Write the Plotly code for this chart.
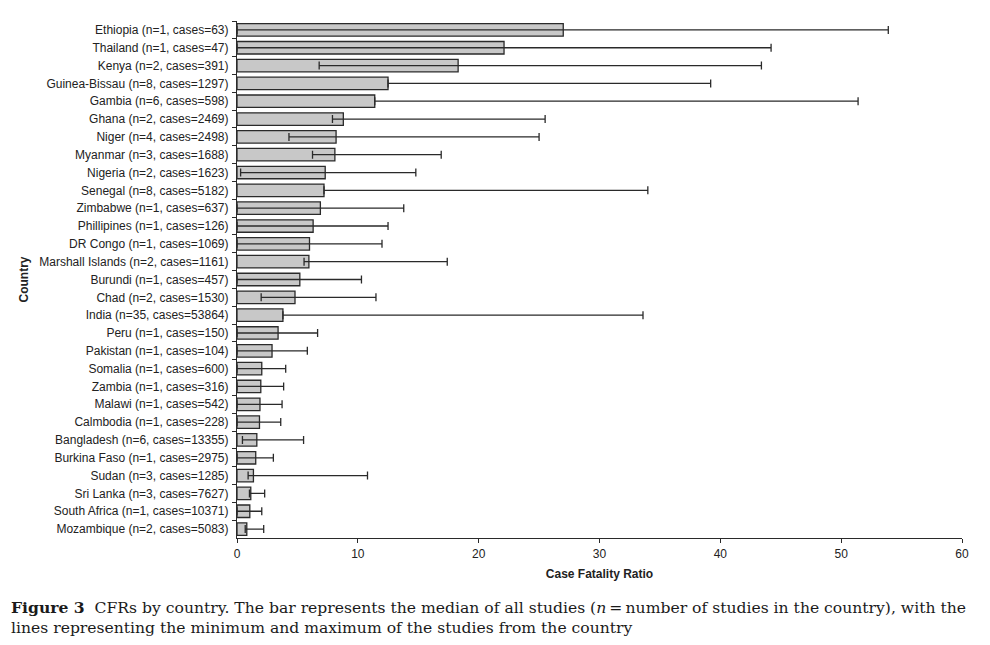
import plotly.graph_objects as go

countries = ["Ethiopia", "Thailand", "Kenya", "Guinea-Bissau", "Gambia", "Ghana", "Niger",
             "Myanmar", "Nigeria", "Senegal", "Zimbabwe", "Phillipines", "DR Congo",
             "Marshall Islands", "Burundi", "Chad", "India", "Peru", "Pakistan", "Somalia",
             "Zambia", "Malawi", "Calmbodia", "Bangladesh", "Burkina Faso", "Sudan",
             "Sri Lanka", "South Africa", "Mozambique"]
n_studies = [1, 1, 2, 8, 6, 2, 4, 3, 2, 8, 1, 1, 1, 2, 1, 2, 35, 1, 1, 1, 1, 1, 1, 6, 1, 3, 3, 1, 2]
cases = [63, 47, 391, 1297, 598, 2469, 2498, 1688, 1623, 5182, 637, 126, 1069, 1161, 457,
         1530, 53864, 150, 104, 600, 316, 542, 228, 13355, 2975, 1285, 7627, 10371, 5083]
median_cfr = [27.0, 22.1, 18.3, 12.5, 11.4, 8.8, 8.2, 8.1, 7.3, 7.2, 6.9, 6.3, 6.0, 5.95,
              5.2, 4.8, 3.8, 3.4, 2.9, 2.05, 1.97, 1.9, 1.86, 1.64, 1.55, 1.36, 1.14, 1.06, 0.81]
min_cfr = [0.0, 0.0, 6.8, 12.5, 11.4, 7.9, 4.3, 6.25, 0.3, 7.2, 0.0, 0.0, 0.0, 5.55,
           0.0, 2.0, 3.8, 0.0, 0.0, 0.0, 0.0, 0.0, 0.0, 0.45, 0.0, 0.92, 1.03, 0.0, 0.68]
max_cfr = [53.9, 44.2, 43.4, 39.2, 51.4, 25.5, 25.0, 16.9, 14.8, 34.0, 13.8, 12.5, 12.0, 17.4,
           10.3, 11.5, 33.6, 6.67, 5.82, 4.03, 3.86, 3.73, 3.62, 5.51, 3.01, 10.8, 2.29, 2.05, 2.21]
x_ticks = [0, 10, 20, 30, 40, 50, 60]

labels = [f"{c} (n={n}, cases={k})" for c, n, k in zip(countries, n_studies, cases)]
err_plus = [mx - md for mx, md in zip(max_cfr, median_cfr)]
err_minus = [md - mn for md, mn in zip(median_cfr, min_cfr)]

dark = "#2a2a2a"
fig = go.Figure()
fig.add_trace(go.Bar(
    y=labels, x=median_cfr, orientation="h",
    marker=dict(color="#c8c8c8", line=dict(color=dark, width=1.3)),
    width=0.7,
    error_x=dict(type="data", symmetric=False, array=err_plus, arrayminus=err_minus,
                 color=dark, thickness=1.3, width=4),
))

fig.update_layout(
    width=982, height=637,
    margin=dict(l=228.5, r=28.3, t=12.7, b=106.7),
    paper_bgcolor="white", plot_bgcolor="white",
    font=dict(family="Liberation Sans, Arial, sans-serif", size=12, color="#222"),
    showlegend=False,
    xaxis=dict(
        range=[0, 60], tickvals=x_ticks, ticks="outside", ticklen=4, tickcolor=dark,
        showline=True, linecolor=dark, linewidth=1.2, showgrid=False, zeroline=False,
        tickfont=dict(size=12),
        title=dict(text="<b>Case Fatality Ratio</b>", font=dict(size=12), standoff=10),
    ),
    yaxis=dict(
        autorange="reversed", type="category", tickson="boundaries",
        ticks="outside", ticklen=4, tickcolor=dark, ticklabelstandoff=5,
        showline=True, linecolor=dark, linewidth=1.2, showgrid=False,
        tickfont=dict(size=12),
        title=dict(text="<b>Country</b>", font=dict(size=12), standoff=8),
    ),
    bargap=0.3,
)

fig.add_annotation(
    xref="paper", yref="paper", x=-228.5 / 725.2, y=-0.113, xanchor="left", yanchor="top",
    align="left", showarrow=False,
    font=dict(family="DejaVu Serif, Liberation Serif, serif", size=15.6, color="#1a1a1a"),
    text=("<b>Figure 3</b>  CFRs by country. The bar represents the median of all studies "
          "(<i>n</i>\u2009=\u2009number of studies in the country), with the<br>"
          "lines representing the minimum and maximum of the studies from the country"),
)

fig.write_html("out.html")
